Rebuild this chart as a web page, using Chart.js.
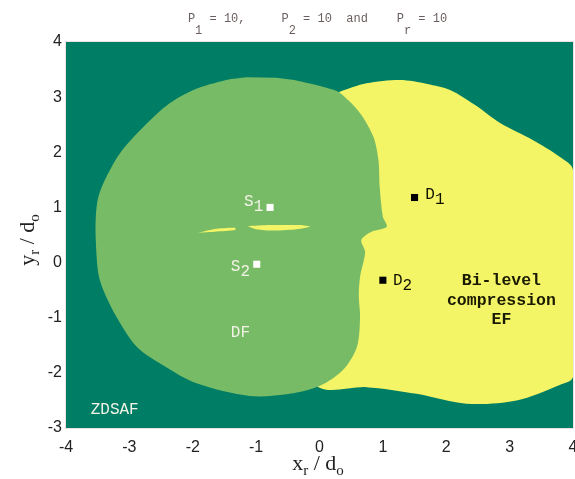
<!DOCTYPE html>
<html>
<head>
<meta charset="utf-8">
<script src="https://cdn.jsdelivr.net/npm/chart.js@4/dist/chart.umd.min.js"></script>
<style>
  html, body { margin: 0; padding: 0; background: #fff; }
  #wrap { width: 575px; height: 479px; position: relative; }
</style>
</head>
<body>
<div id="wrap"><canvas id="regionChart"></canvas></div>
<script>
// DF region (light green), traced clockwise from the top
const dfBoundary = [
  [-0.68, 3.35], [-0.31, 3.29], [0.11, 3.17], [0.32, 3.08], [0.64, 2.71],
  [0.85, 2.28], [0.93, 1.86], [0.95, 1.37], [1.0, 0.83], [1.06, 0.65],
  [0.82, 0.56], [0.66, 0.41], [0.72, 0.19], [0.64, -0.26], [0.62, -0.6],
  [0.64, -0.99], [0.59, -1.53], [0.37, -1.95], [0.0, -2.24], [-0.47, -2.38],
  [-1.1, -2.42], [-1.94, -2.19], [-2.47, -1.86], [-2.88, -1.53], [-3.2, -0.99],
  [-3.41, -0.5], [-3.49, -0.2], [-3.53, 0.4], [-3.53, 0.83], [-3.49, 1.19],
  [-3.36, 1.56], [-3.15, 1.98], [-2.83, 2.4], [-2.41, 2.85], [-1.99, 3.13],
  [-1.47, 3.31], [-1.15, 3.36]
];

// EF region (yellow); its left side is hidden under DF
const efBoundary = [
  [0.32, 3.1], [0.74, 3.25], [1.27, 3.31], [1.7, 3.24],
  [2.06, 3.13], [2.45, 2.86], [2.85, 2.53], [3.37, 2.22], [3.79, 1.92],
  [4.0, 1.68], [4.0, -2.07], [3.79, -2.22], [3.11, -2.5], [2.32, -2.56],
  [1.53, -2.38], [0.74, -2.26], [0.0, -2.27], [-0.5, -1.5], [-0.5, 2.5]
];

// two thin EF slivers inside DF
const efSliverLeft = [
  [-1.92, 0.54], [-1.65, 0.61], [-1.33, 0.63], [-1.33, 0.59], [-1.65, 0.56]
];
const efSliverRight = [
  [-1.13, 0.66], [-0.78, 0.68], [-0.31, 0.68], [-0.15, 0.65],
  [-0.39, 0.6], [-0.78, 0.58], [-1.02, 0.61]
];

const sourceNodes = [[-0.78, 1.0], [-0.99, -0.03]];
const destNodes = [[1.5, 1.18], [1.0, -0.32]];

const xTicks = [-4, -3, -2, -1, 0, 1, 2, 3, 4];
const yTicks = [-3, -2, -1, 0, 1, 2, 3, 4];

const toXY = arr => arr.map(p => ({ x: p[0], y: p[1] }));

const DARK = '#007e65';
const LIGHT = '#78bb66';
const YELLOW = '#f4f566';

// text annotations (data coords = left end of baseline)
const notes = [
  { base: 'S', sub: '1', x: -1.19, y: 1.03, color: '#f2f2e6' },
  { base: 'S', sub: '2', x: -1.40, y: -0.15, color: '#f2f2e6' },
  { base: 'D', sub: '1', x: 1.67, y: 1.145, color: '#111100' },
  { base: 'D', sub: '2', x: 1.16, y: -0.41, color: '#111100' },
  { base: 'DF', sub: '', x: -1.40, y: -1.35, color: '#f2f2e6' },
  { base: 'ZDSAF', sub: '', x: -3.61, y: -2.74, color: '#f2f2e6' }
];
const efNote = { lines: ['Bi-level', 'compression', 'EF'], x: 2.87, y: [-0.41, -0.77, -1.12] };

function drawSub(ctx, base, sub, x, y, font, drop) {
  ctx.font = font;
  ctx.fillText(base, x, y);
  const w = ctx.measureText(base).width;
  if (sub) ctx.fillText(sub, x + w, y + drop);
}

const decorPlugin = {
  id: 'decor',
  beforeDatasetsDraw(chart) {
    const { ctx, chartArea: a } = chart;
    ctx.save();
    ctx.fillStyle = DARK;
    ctx.fillRect(a.left, a.top, a.right - a.left, a.bottom - a.top);
    ctx.restore();
  },
  afterDatasetsDraw(chart) {
    const { ctx, scales: { x, y } } = chart;
    ctx.save();
    ctx.textAlign = 'left';
    ctx.textBaseline = 'alphabetic';
    notes.forEach(n => {
      ctx.fillStyle = n.color;
      drawSub(ctx, n.base, n.sub, x.getPixelForValue(n.x), y.getPixelForValue(n.y),
        '16px "Liberation Mono", monospace', 5);
    });
    ctx.fillStyle = '#1a1a00';
    ctx.textAlign = 'center';
    ctx.font = 'bold 16.5px "Liberation Mono", monospace';
    efNote.lines.forEach((t, i) => {
      ctx.fillText(t, x.getPixelForValue(efNote.x), y.getPixelForValue(efNote.y[i]));
    });
    ctx.restore();
  },
  afterDraw(chart) {
    const { ctx, chartArea: a } = chart;
    ctx.save();
    ctx.strokeStyle = '#f1dede';
    ctx.lineWidth = 1;
    ctx.strokeRect(a.left - 0.5, a.top - 0.5, a.right - a.left + 1, a.bottom - a.top + 1);

    // title in monospace, subscripts dropped well below the line
    const parts = [['P', 0], ['1', 1], [' = 10,     ', 0], ['P', 0], ['2', 1],
      [' = 10  and    ', 0], ['P', 0], ['r', 1], [' = 10', 0]];
    ctx.font = '12px "Liberation Mono", monospace';
    ctx.fillStyle = '#6b5e5e';
    ctx.textAlign = 'left';
    ctx.textBaseline = 'alphabetic';
    const total = parts.reduce((s, p) => s + ctx.measureText(p[0]).width, 0);
    let tx = (a.left + a.right) / 2 - total / 2 - 2;
    parts.forEach(p => {
      ctx.fillText(p[0], tx, p[1] ? 33.5 : 22);
      tx += ctx.measureText(p[0]).width;
    });

    // axis titles
    ctx.fillStyle = '#222';
    const big = '22px "Liberation Serif", serif';
    const small = '15px "Liberation Serif", serif';
    const measure = () => {
      ctx.font = big; let w = ctx.measureText('x').width + ctx.measureText(' / d').width;
      ctx.font = small; w += ctx.measureText('r').width + ctx.measureText('o').width;
      return w;
    };
    const drawTitle = (c1, cx, cy) => {
      const w = measure();
      let px = cx - w / 2;
      ctx.font = big; ctx.fillText(c1, px, cy); px += ctx.measureText(c1).width;
      ctx.font = small; ctx.fillText('r', px, cy + 5); px += ctx.measureText('r').width;
      ctx.font = big; ctx.fillText(' / d', px, cy); px += ctx.measureText(' / d').width;
      ctx.font = small; ctx.fillText('o', px, cy + 5);
    };
    drawTitle('x', 318, 470);
    ctx.translate(34, 240);
    ctx.rotate(-Math.PI / 2);
    drawTitle('y', 0, 0);
    ctx.restore();
  }
};

const regionStyle = { showLine: true, fill: 'shape', borderWidth: 0, pointRadius: 0 };

new Chart(document.getElementById('regionChart'), {
  type: 'scatter',
  data: {
    datasets: [
      {
        data: toXY(sourceNodes), pointStyle: 'rect', pointRadius: 5,
        pointBackgroundColor: '#ffffff', pointBorderWidth: 0, order: 0
      },
      {
        data: toXY(destNodes), pointStyle: 'rect', pointRadius: 5,
        pointBackgroundColor: '#000000', pointBorderWidth: 0, order: 0
      },
      { ...regionStyle, data: toXY(efSliverLeft), backgroundColor: YELLOW, tension: 0.2, order: 1 },
      { ...regionStyle, data: toXY(efSliverRight), backgroundColor: YELLOW, tension: 0.2, order: 1 },
      { ...regionStyle, data: toXY(dfBoundary), backgroundColor: LIGHT, tension: 0.3, order: 2 },
      { ...regionStyle, data: toXY(efBoundary), backgroundColor: YELLOW, tension: 0.3, order: 3 }
    ]
  },
  options: {
    responsive: true,
    maintainAspectRatio: false,
    animation: false,
    layout: { autoPadding: false, padding: { top: 42, right: 2, left: 0, bottom: 0 } },
    plugins: { legend: { display: false }, tooltip: { enabled: false } },
    scales: {
      x: {
        type: 'linear',
        min: xTicks[0], max: xTicks[xTicks.length - 1],
        grid: { display: false, drawTicks: false },
        border: { display: false },
        ticks: {
          stepSize: 1, padding: 10, color: '#222',
          font: { family: '"Liberation Sans", Arial, sans-serif', size: 16 }
        },
        afterFit(scale) { scale.height = 51; scale.paddingLeft = 0; scale.paddingRight = 0; }
      },
      y: {
        type: 'linear',
        min: yTicks[0], max: yTicks[yTicks.length - 1],
        grid: { display: false, drawTicks: false },
        border: { display: false },
        ticks: {
          stepSize: 1, padding: 4, color: '#222',
          font: { family: '"Liberation Sans", Arial, sans-serif', size: 16 }
        },
        afterFit(scale) { scale.width = 66; scale.paddingTop = 0; scale.paddingBottom = 0; }
      }
    }
  },
  plugins: [decorPlugin]
});
</script>
</body>
</html>
